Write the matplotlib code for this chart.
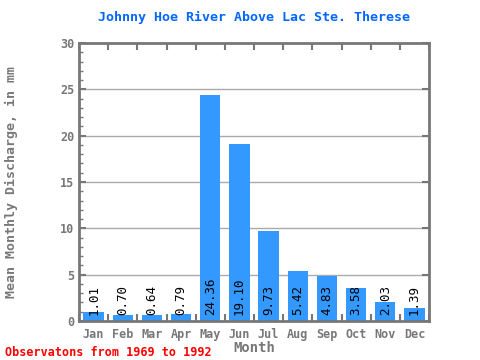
import matplotlib
matplotlib.use("Agg")
import matplotlib.pyplot as plt
import numpy as np

months = ['Jan', 'Feb', 'Mar', 'Apr', 'May', 'Jun', 'Jul', 'Aug', 'Sep', 'Oct', 'Nov', 'Dec']
discharge = [1.01, 0.70, 0.64, 0.79, 24.36, 19.10, 9.73, 5.42, 4.83, 3.58, 2.03, 1.39]

mono = 'DejaVu Sans Mono'
grey = '#777777'

fig = plt.figure(figsize=(4.8, 3.6), dpi=100)
ax = fig.add_axes([0.1646, 0.1083, 0.7292, 0.7722])

x = np.arange(len(months))
ax.bar(x, discharge, width=0.7, color='#3399ff', zorder=2)

for xi, v in zip(x, discharge):
    ax.text(xi, 0.7, f'{v:.2f}', rotation=90, ha='center', va='bottom',
            family=mono, fontsize=9, color='black', zorder=3)

ax.set_xlim(-0.5, 11.5)
ax.set_ylim(0, 30)
ax.set_yticks(range(0, 31, 5))
ax.set_yticks(range(0, 31, 1), minor=True)
ax.set_xticks(x)
ax.set_xticklabels(months)
ax.set_xticks(np.arange(-0.5, 12, 1), minor=True)

for y in range(5, 30, 5):
    ax.axhline(y, color='#aaaaaa', lw=1, zorder=1)

for s in ax.spines.values():
    s.set_color(grey)
    s.set_linewidth(2)

ax.tick_params(axis='x', which='major', length=0, pad=5, labelsize=8.5, labelcolor=grey)
ax.tick_params(axis='x', which='minor', length=5, width=1.5, color=grey,
               direction='in', top=True, bottom=True)
ax.tick_params(axis='y', which='major', length=5, width=1.5, color=grey,
               direction='in', left=True, right=True, labelsize=8.5, labelcolor=grey)
ax.tick_params(axis='y', which='minor', length=3, width=1, color=grey,
               direction='in', left=True, right=False)
for lab in ax.get_xticklabels() + ax.get_yticklabels():
    lab.set_family(mono)
    lab.set_fontweight('bold')

ax.set_title('Johnny Hoe River Above Lac Ste. Therese', family=mono,
             fontweight='bold', color='#0066ff', fontsize=9.5, pad=16)
ax.set_xlabel('Month', family=mono, fontweight='bold', color=grey, fontsize=10, labelpad=0)
ax.set_ylabel('Mean Monthly Discharge, in mm', family=mono, fontweight='bold',
              color=grey, fontsize=9.5)
ax.yaxis.set_label_coords(-0.175, 0.5)

fig.text(0.01, 0.012, 'Observatons from 1969 to 1992', family=mono, fontweight='bold',
         color='#ff0000', fontsize=8.5)

fig.savefig('out.png', dpi=100)
